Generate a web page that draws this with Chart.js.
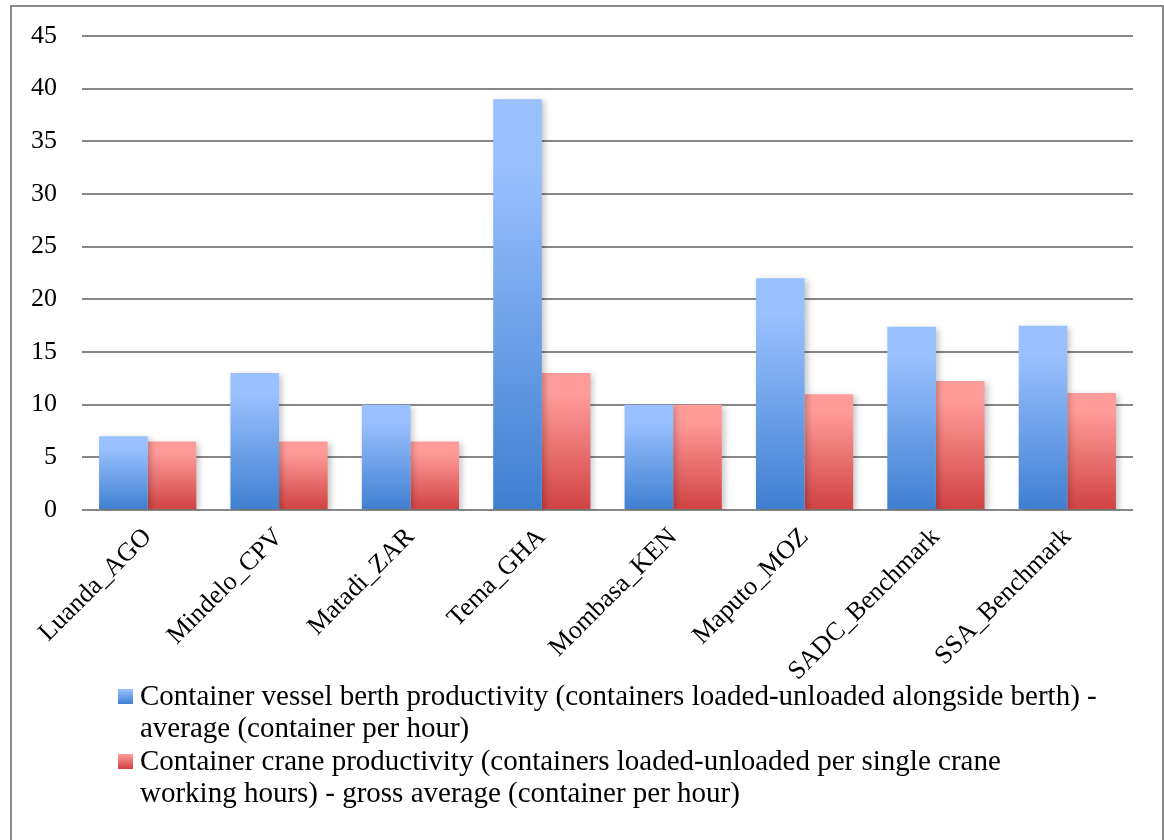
<!DOCTYPE html>
<html>
<head>
<meta charset="utf-8">
<script src="https://cdn.jsdelivr.net/npm/chart.js@4.4.1/dist/chart.umd.min.js"></script>
<style>
  html, body { margin: 0; padding: 0; background: #fff; overflow: hidden; }
  #frame {
    position: absolute;
    left: 10px;
    top: 5px;
    width: 1150px;
    height: 900px;
    border: 2px solid #8a8a8a;
    background: #fff;
  }
  #portChart { display: block; }
</style>
</head>
<body>
<div id="frame">
  <canvas id="portChart" width="1150" height="833"></canvas>
</div>
<script>
const ports = ["Luanda_AGO", "Mindelo_CPV", "Matadi_ZAR", "Tema_GHA", "Mombasa_KEN", "Maputo_MOZ", "SADC_Benchmark", "SSA_Benchmark"];
const berthProductivity = [7, 13, 10, 39, 10, 22, 17.4, 17.5];
const craneProductivity = [6.5, 6.5, 6.5, 13, 10, 11, 12.25, 11.1];
const berthLegend = ["Container vessel berth productivity (containers loaded-unloaded alongside berth) -", "average (container per hour)"];
const craneLegend = ["Container crane productivity (containers loaded-unloaded per single crane", "working hours) - gross average (container per hour)"];

const blueTop = '#9ac1ff';
const blueBottom = '#3f7fd0';
const redTop = '#ff9c9a';
const redBottom = '#d04242';

document.addEventListener("DOMContentLoaded", function () {
  generateChart();
});

// each bar gets its own vertical gradient, light at the top and dark at the base
function barGradient(top, bottom) {
  return function (context) {
    const chart = context.chart;
    const yScale = chart.scales.y;
    if (!chart.chartArea || !yScale || context.parsed == null) {
      return top;
    }
    const y0 = yScale.getPixelForValue(0);
    const y1 = yScale.getPixelForValue(context.parsed.y);
    if (!isFinite(y0) || !isFinite(y1) || y0 === y1) {
      return top;
    }
    const g = chart.ctx.createLinearGradient(0, y1, 0, y0);
    g.addColorStop(0, top);
    g.addColorStop(0.15, top);
    g.addColorStop(1, bottom);
    return g;
  };
}

const barShadow = {
  id: 'barShadow',
  beforeDatasetsDraw(chart) {
    const ctx = chart.ctx;
    ctx.save();
    ctx.shadowColor = 'rgba(0, 0, 0, 0.22)';
    ctx.shadowBlur = 6;
    ctx.shadowOffsetX = 3;
    ctx.shadowOffsetY = 2;
  },
  afterDatasetsDraw(chart) {
    chart.ctx.restore();
  }
};

const wrappedLegend = {
  id: 'wrappedLegend',
  afterDraw(chart) {
    const ctx = chart.ctx;
    const items = [
      { lines: berthLegend, top: blueTop, bottom: blueBottom },
      { lines: craneLegend, top: redTop, bottom: redBottom }
    ];
    ctx.save();
    ctx.font = '29px "Liberation Serif"';
    ctx.textBaseline = 'alphabetic';
    ctx.textAlign = 'left';
    let baseline = 698;
    items.forEach((item) => {
      const g = ctx.createLinearGradient(0, baseline - 16, 0, baseline - 1);
      g.addColorStop(0, item.top);
      g.addColorStop(1, item.bottom);
      ctx.fillStyle = g;
      ctx.fillRect(106, baseline - 16, 15, 15);
      ctx.fillStyle = '#000';
      item.lines.forEach((line, j) => {
        ctx.fillText(line, 128, baseline + j * 32);
      });
      baseline += item.lines.length * 32 + 1;
    });
    ctx.restore();
  }
};

function generateChart() {
  var ctx = document.getElementById("portChart").getContext('2d');

  var myChart = new Chart(ctx, {
    type: 'bar',
    data: {
      labels: ports,
      datasets: [{
        label: berthLegend.join(' '),
        data: berthProductivity,
        backgroundColor: barGradient(blueTop, blueBottom),
        borderWidth: 0
      },
      {
        label: craneLegend.join(' '),
        data: craneProductivity,
        backgroundColor: barGradient(redTop, redBottom),
        borderWidth: 0
      }]
    },
    options: {
      responsive: false,
      animation: false,
      categoryPercentage: 0.74,
      barPercentage: 1.0,
      layout: {
        padding: { top: 29, right: 29, bottom: 130, left: 0 }
      },
      plugins: {
        legend: { display: false },
        tooltip: { enabled: false },
        title: { display: false }
      },
      scales: {
        x: {
          grid: { display: false },
          border: { display: false },
          ticks: {
            color: '#000',
            font: { family: '"Liberation Serif"', size: 26 },
            minRotation: 45,
            maxRotation: 45,
            padding: 4
          },
          afterFit: function (scale) {
            scale.height = 200;
            scale.paddingLeft = 0;
            scale.paddingRight = 0;
          }
        },
        y: {
          min: 0,
          max: 45,
          border: { display: false },
          grid: {
            color: '#878787',
            lineWidth: 2,
            drawTicks: false
          },
          ticks: {
            stepSize: 5,
            color: '#000',
            padding: 25,
            font: { family: '"Liberation Serif"', size: 26 }
          },
          afterFit: function (scale) {
            scale.width = 70;
            scale.paddingTop = 0;
            scale.paddingBottom = 0;
          }
        }
      }
    },
    plugins: [barShadow, wrappedLegend]
  });
}
</script>
</body>
</html>
